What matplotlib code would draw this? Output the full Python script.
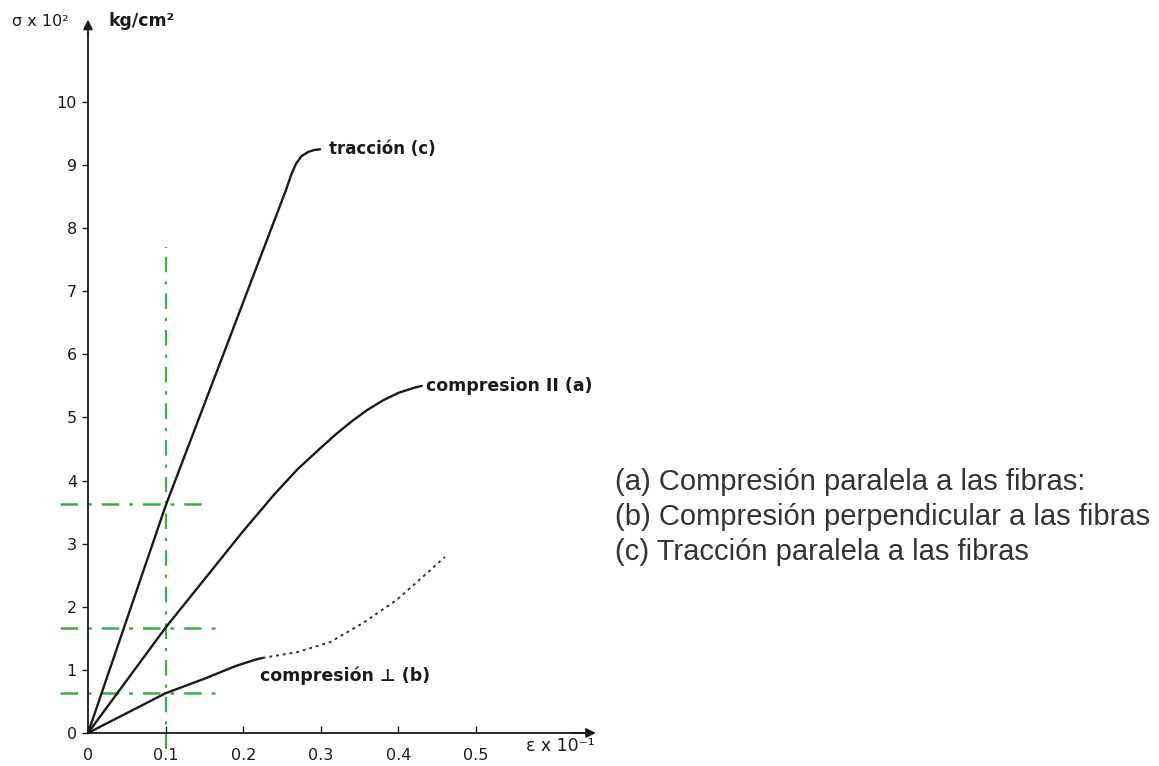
import matplotlib
matplotlib.use("Agg")
import matplotlib.pyplot as plt

# curve (c) traccion
eps_c = [0, 0.10, 0.255, 0.262, 0.268, 0.275, 0.284, 0.292, 0.299]
sig_c = [0, 3.6, 8.6, 8.85, 9.02, 9.14, 9.21, 9.24, 9.25]
# curve (a) compresion paralela
eps_a = [0, 0.10, 0.20, 0.24, 0.27, 0.30, 0.32, 0.34, 0.36, 0.38, 0.40, 0.42, 0.43]
sig_a = [0, 1.67, 3.2, 3.78, 4.18, 4.52, 4.74, 4.94, 5.12, 5.27, 5.39, 5.47, 5.5]
# curve (b) compresion perpendicular, solid part + dotted continuation
eps_b = [0, 0.10, 0.15, 0.19, 0.205, 0.215, 0.225]
sig_b = [0, 0.63, 0.86, 1.06, 1.12, 1.16, 1.19]
eps_b2 = [0.225, 0.269, 0.312, 0.354, 0.398, 0.432, 0.46]
sig_b2 = [1.19, 1.28, 1.44, 1.74, 2.11, 2.48, 2.79]

eps_ref = 0.1
sig_ref = [3.63, 1.67, 0.63]
ref_len = [0.153, 0.168, 0.168]

xticks = [0, 0.1, 0.2, 0.3, 0.4, 0.5]
xlabels = ["0", "0.1", "0.2", "0.3", "0.4", "0.5"]
yticks = list(range(11))

legend_lines = ["(a) Compresión paralela a las fibras:",
                "(b) Compresión perpendicular a las fibras",
                "(c) Tracción paralela a las fibras"]

fig = plt.figure(figsize=(11.59, 7.66), dpi=100)
ax = fig.add_axes([0, 0, 1, 1])
ax.set_xlim(-0.1134, 1.3802)
ax.set_ylim(-0.523, 11.616)

ink = "#1a1a1a"
green = "#3fae4a"

# reference lines
ax.plot([eps_ref, eps_ref], [-0.25, 7.7], color=green, lw=1.6,
        linestyle=(0, (7, 4, 1.5, 4)))
for s, l in zip(sig_ref, ref_len):
    ax.plot([-0.036, l], [s, s], color=green, lw=1.8, linestyle=(0, (7, 4, 1.5, 4)))

ax.plot(eps_c, sig_c, color=ink, lw=1.7, solid_capstyle="round", solid_joinstyle="round")
ax.plot(eps_a, sig_a, color=ink, lw=1.7, solid_capstyle="round", solid_joinstyle="round")
ax.plot(eps_b, sig_b, color=ink, lw=1.7, solid_capstyle="round", solid_joinstyle="round")
ax.plot(eps_b2, sig_b2, color="#333333", lw=1.4, linestyle=(0, (1.5, 2)))

# axes
for side in ["top", "right"]:
    ax.spines[side].set_visible(False)
ax.spines["left"].set_position(("data", 0))
ax.spines["bottom"].set_position(("data", 0))
ax.spines["left"].set_bounds(0, 11.1)
ax.spines["bottom"].set_bounds(0, 0.64)
ax.spines["left"].set_color(ink)
ax.spines["bottom"].set_color(ink)
ax.spines["left"].set_linewidth(1.3)
ax.spines["bottom"].set_linewidth(1.3)
ax.annotate("", xy=(0, 11.35), xytext=(0, 11.0),
            arrowprops=dict(arrowstyle="-|>", color=ink, lw=1.3, mutation_scale=14))
ax.annotate("", xy=(0.658, 0), xytext=(0.62, 0),
            arrowprops=dict(arrowstyle="-|>", color=ink, lw=1.3, mutation_scale=14))

ax.set_xticks(xticks)
ax.set_xticklabels(xlabels)
ax.set_yticks(yticks)
ax.tick_params(axis="x", direction="in", length=5, width=1, pad=11,
               labelsize=11.5, colors=ink)
ax.tick_params(axis="y", direction="out", length=4, width=1, pad=4,
               labelsize=11.5, colors=ink)

# curve labels
ax.text(0.311, 9.25, "tracción (c)", fontsize=12, fontweight="bold",
        va="center", color=ink)
ax.text(0.436, 5.5, "compresion II (a)", fontsize=12.5, fontweight="bold",
        va="center", color=ink)
ax.text(0.222, 0.91, "compresión ⊥ (b)", fontsize=12.5, fontweight="bold",
        va="center", color=ink)

# axis captions
fig.text(12 / 1159, 1 - 22 / 766, "σ x 10²", fontsize=11.5, va="center", color=ink)
fig.text(108 / 1159, 1 - 21 / 766, "kg/cm²", fontsize=12.5, fontweight="bold",
         va="center", color=ink)
fig.text(526 / 1159, 1 - 746 / 766, "ε x 10⁻¹", fontsize=12.5, va="center", color=ink)

# legend text
for i, line in enumerate(legend_lines):
    fig.text(615 / 1159, 1 - (481.5 + 35.3 * i) / 766, line, fontsize=21,
             family="Liberation Sans", va="center", color="#333333")

fig.savefig("out.png", dpi=100)
